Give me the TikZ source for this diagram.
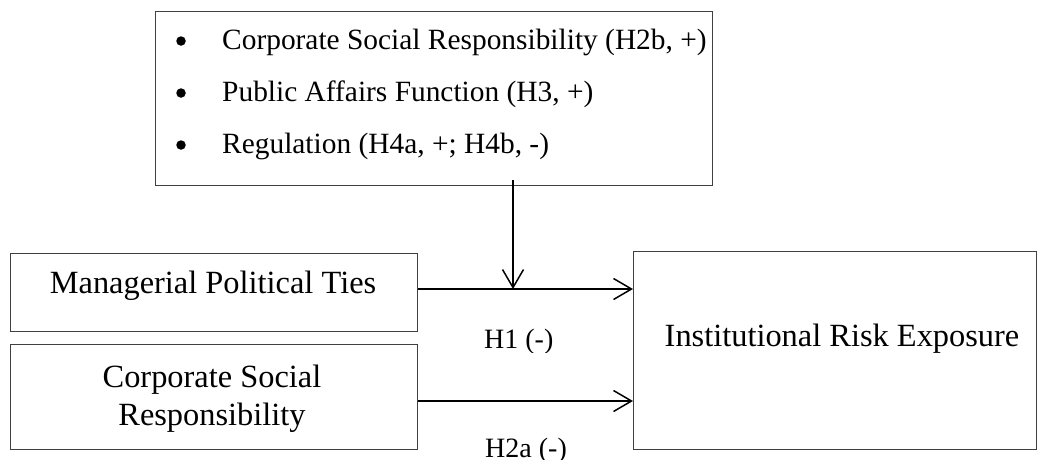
\documentclass[tikz,border=0pt]{standalone}
\usepackage{fontspec}
\setmainfont{Liberation Serif}
\usetikzlibrary{arrows.meta}
\begin{document}
\begin{tikzpicture}[x=1pt,y=-1pt,
  frame/.style={draw=black!75, line width=1.1pt, inner sep=0pt, anchor=north west},
  bigtext/.style={font=\fontsize{32.4}{39}\selectfont, inner sep=0pt, anchor=base},
  listtext/.style={font=\fontsize{29.4}{35}\selectfont, inner sep=0pt, anchor=base west},
  hyptext/.style={font=\fontsize{28}{34}\selectfont, inner sep=0pt, anchor=base west},
  dot/.style={circle, fill=black, inner sep=0pt, minimum size=9.5pt},
  link/.style={line width=1.5pt, -{Straight Barb[length=18pt,width=21pt,line width=1.5pt]}}
]
\useasboundingbox (0,0) rectangle (1043,459);

% moderator box with bullet list
\node[frame, minimum width=557pt, minimum height=174pt] (mod) at (155,11) {};
\node[dot] (b1) at (181,41) {};
\node[dot] (b2) at (181,93) {};
\node[dot] (b3) at (181,145) {};
\node[listtext] (l1) at (222,49) {Corporate Social Responsibility (H2b, +)};
\node[listtext] (l2) at (222,101) {Public Affairs Function (H3, +)};
\node[listtext] (l3) at (222,153) {Regulation (H4a, +; H4b, -)};

% predictor boxes
\node[frame, minimum width=407pt, minimum height=78pt] (mpt) at (10,253) {};
\node[bigtext] (mpttext) at (213,293) {Managerial Political Ties};

\node[frame, minimum width=407pt, minimum height=105pt] (csr) at (10,344) {};
\node[bigtext] (csrtext1) at (212,387) {Corporate Social};
\node[bigtext] (csrtext2) at (212,425) {Responsibility};

% outcome box
\node[frame, minimum width=403pt, minimum height=198pt] (ire) at (633,251) {};
\node[bigtext] (iretext) at (842,346) {Institutional Risk Exposure};

% paths
\coordinate (j1) at (513,289);
\coordinate (t1) at (mod.south -| j1);
\draw[link] ([yshift=6pt]t1) -- (j1);
\draw[link] (mpt.east |- j1) -- (ire.west |- j1);
\coordinate (j2) at (513,401);
\draw[link] (csr.east |- j2) -- (ire.west |- j2);

% hypothesis labels
\begin{scope}
  \clip (440,300) rectangle (620,352);
  \node[hyptext] (h1) at (484,348) {H1 (-)};
\end{scope}
\node[hyptext] (h2a) at (485,457) {H2a (-)};
\end{tikzpicture}
\end{document}
